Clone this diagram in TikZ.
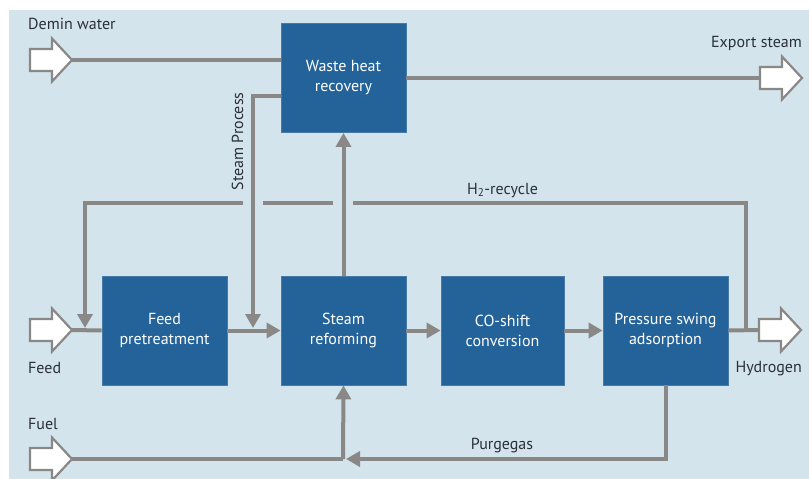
\documentclass[tikz,border=0pt]{standalone}
\usepackage{fontspec}
\setmainfont{PT Sans}
\usetikzlibrary{arrows.meta}
\definecolor{bgblue}{HTML}{D3E4EC}
\definecolor{boxblue}{HTML}{24639A}
\definecolor{lgray}{HTML}{8A8886}
\definecolor{txt}{HTML}{2B2F3A}
\tikzset{
  box/.style={fill=boxblue, draw=boxblue!85!white, line width=0.8pt, minimum width=125pt, minimum height=109pt,
    text=white, align=center, font=\fontsize{16}{20}\selectfont, inner sep=0pt},
  pipe/.style={draw=lgray, line width=4pt},
  flow/.style={pipe, -{Triangle[length=14pt,width=15pt]}},
  lbl/.style={text=txt, font=\fontsize{16}{20}\selectfont, inner sep=0pt},
  barrow/.pic={\draw[draw=lgray, fill=white, line width=2.2pt, line join=miter]
     (0,-11) -- (22,-11) -- (22,-21.5) -- (42,0) -- (22,21.5) -- (22,11) -- (0,11) -- cycle;}
}
\begin{document}
\begin{tikzpicture}[x=1pt,y=-1pt]
\useasboundingbox (0,0) rectangle (809,479);
\fill[white] (0,0) rectangle (809,479);
\fill[bgblue] (9,10) rectangle (809,479);

% boxes
\node[box] (whr) at (343.5,78) {Waste heat\\recovery};
\node[box] (fp) at (164.5,330.5) {Feed\\pretreatment};
\node[box] (sr) at (343.5,330.5) {Steam\\reforming};
\node[box, minimum width=123pt] (co) at (502.5,330.5) {CO-shift\\conversion};
\node[box] (psa) at (665.5,330.5) {Pressure swing\\adsorption};

% block arrows
\pic at (30,60) {barrow};
\pic at (30,330) {barrow};
\pic at (30,459) {barrow};
\pic at (760,78) {barrow};
\pic at (759,330) {barrow};
\coordinate (dem) at (72,60);
\coordinate (feed) at (72,330);
\coordinate (fuel) at (72,459);
\coordinate (exp) at (760,78);
\coordinate (hyd) at (759,330);

% labels
\node[lbl, anchor=base west] (ldem) at (28,30) {Demin water};
\node[lbl, anchor=base east] (lexp) at (802,47) {Export steam};
\node[lbl, anchor=base west] (lfeed) at (28,373) {Feed};
\node[lbl, anchor=base west] (lfuel) at (28,429) {Fuel};
\node[lbl, anchor=base east] (lhyd) at (802,372) {Hydrogen};
\node[lbl, anchor=base] (lpur) at (502,449) {Purgegas};
\node[lbl, anchor=base] (lh2) at (502.5,194) {H\textsubscript{2}-recycle};
\node[lbl, anchor=base, rotate=90] (lsp) at (243,141.5) {Steam Process};

% coordinates
\coordinate (spA) at (253,96);
\coordinate (spB) at (253,328);
\coordinate (rA) at (746,330);
\coordinate (rB) at (746,203);
\coordinate (g1) at (353,203);
\coordinate (g2) at (333,203);
\coordinate (g3) at (263,203);
\coordinate (g4) at (243,203);
\coordinate (rC) at (85,203);
\coordinate (rD) at (85,328);
\coordinate (fj) at (343,459);
\coordinate (pj) at (666,459);
\coordinate (pend) at (346,459);

% connectors
\draw[pipe] (dem) -- (whr.west |- dem);
\draw[flow] (whr.west |- spA) -- (spA) -- (spB);
\draw[pipe] (whr.east |- exp) -- (exp);
\draw[pipe] (feed) -- (fp.west);
\draw[flow] (fp.east) -- (sr.west);
\draw[flow] (sr.north) -- (whr.south);
\draw[flow] (sr.east) -- (co.west);
\draw[flow] (co.east) -- (psa.west);
\draw[pipe] (psa.east) -- (hyd);
\draw[pipe] (rA) -- (rB) -- (g1);
\draw[pipe] (g2) -- (g3);
\draw[flow] (g4) -- (rC) -- (rD);
\draw[pipe] (fuel) -- (fj);
\draw[flow] (fj) -- (sr.south);
\draw[flow] (psa.south) |- (pend);
\end{tikzpicture}
\end{document}
